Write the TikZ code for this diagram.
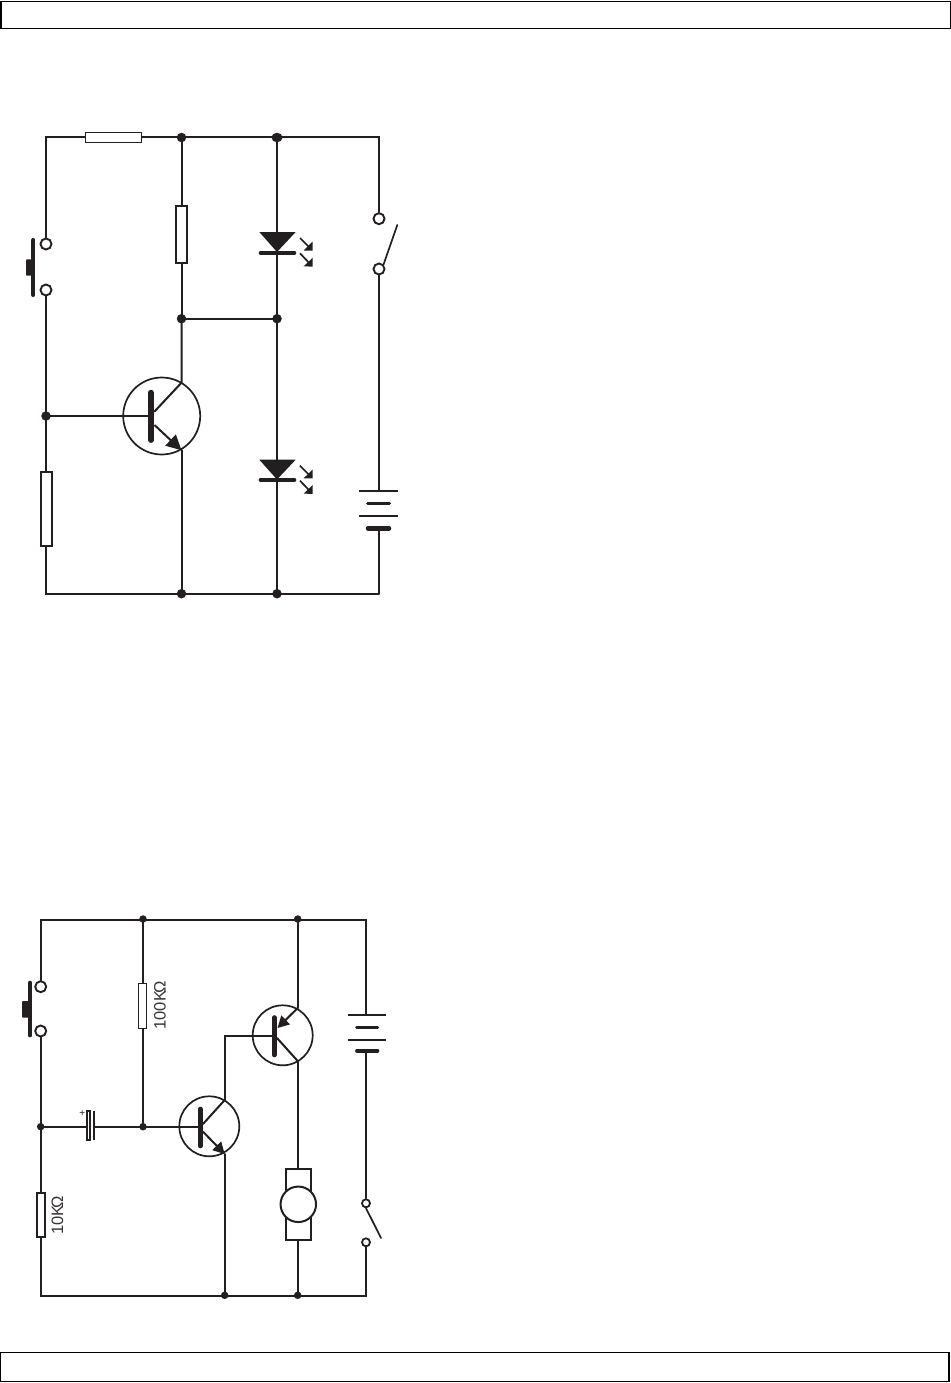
\documentclass[tikz,border=0pt]{standalone}
\usepackage{fontspec}
\setmainfont{Liberation Sans}
\usetikzlibrary{arrows.meta,shapes.geometric}
\definecolor{ink}{HTML}{231F20}
\tikzset{
  wire/.style={draw=ink,line width=2pt,line cap=round,line join=miter},
  thin wire/.style={draw=ink,line width=1.7pt},
  res/.style={draw=ink,fill=white,line width=1.9pt,rectangle,inner sep=0pt},
  dotA/.style={circle,fill=ink,inner sep=0pt,minimum size=9.5pt},
  dotB/.style={circle,fill=ink,inner sep=0pt,minimum size=7.5pt},
  term/.style={circle,draw=ink,fill=white,line width=1.9pt,inner sep=0pt,minimum size=11pt},
  termS/.style={circle,draw=ink,fill=white,line width=1.8pt,inner sep=0pt,minimum size=8pt},
  tcircle/.style={circle,draw=ink,line width=1.7pt,inner sep=0pt},
  bar/.style={draw=ink,line cap=round},
  plate/.style={draw=ink,line cap=butt},
  eArrow/.style={wire,line cap=butt,-{Triangle[length=15pt,width=15pt]}},
  ledArrow/.style={draw=ink,line width=1.7pt,-{Triangle[length=6.5pt,width=12pt]}},
  val/.style={rotate=90,font=\fontsize{16.5}{16.5}\selectfont,text=ink!90,inner sep=0pt}
}
\begin{document}
\begin{tikzpicture}[x=1pt,y=-1pt]
\useasboundingbox (0,0) rectangle (950,1383);
% header and footer bars
\node[draw=black,line width=1.8pt,minimum width=950pt,minimum height=27pt,inner sep=0pt] (hdr) at (475.8,15) {};
\node[draw=black,line width=1.8pt,minimum width=949pt,minimum height=29pt,inner sep=0pt] (ftr) at (474.5,1367) {};

%% ---------- circuit 1 ----------
\coordinate (tl) at (46,137.5);
\coordinate (tr) at (379,137.5);
\coordinate (bl) at (46,593.7);
\coordinate (br) at (379,593.7);
\node[dotA] (j1) at (181.5,137.5) {};
\node[ellipse,fill=ink,inner sep=0pt,minimum width=11pt,minimum height=9.5pt] (j2) at (277,137.5) {};
\node[dotA] (j3) at (181.5,318.7) {};
\node[dotA] (j4) at (277,318.7) {};
\node[dotA] (j5) at (46,416) {};
\node[dotA] (j6) at (181.5,593.7) {};
\node[dotA] (j7) at (277,593.7) {};
\node[res,minimum width=56pt,minimum height=10pt] (r1) at (113.5,137.5) {};
\node[res,minimum width=11pt,minimum height=57pt] (r2) at (181.3,234.8) {};
\node[res,minimum width=11pt,minimum height=74pt] (r3) at (46.3,509.3) {};
\node[term] (p1) at (46,244) {};
\node[term] (p2) at (46,290) {};
\node[term] (s1) at (379,218.7) {};
\node[term] (s2) at (379,269) {};
% wires
\draw[wire] (p1.north) -- (tl) -- (r1.west);
\draw[wire] (r1.east) -- (j1.center) -- (j2.center) -- (tr) -- (s1.north);
\draw[wire] (p2.south) -- (j5.center) -- (r3.north -| j5);
\draw[wire] (r3.south -| j5) -- (bl) -- (j6.center) -- (j7.center) -- (br);
\draw[wire] (j1.center) -- (r2.north -| j1);
\draw[wire] (r2.south -| j1) -- (j3.center) -- (j4.center);
\coordinate (led1t) at (277,232);
\coordinate (led1b) at (277,252.7);
\coordinate (led2t) at (277,459.7);
\coordinate (led2b) at (277,480);
\draw[wire] (j2.center) -- (led1t);
\draw[wire] (led1b) -- (j4.center) -- (led2t);
\draw[wire] (led2b) -- (j7.center);
% LED 1
\fill[ink] (259.3,232) -- (295.7,232) -- (277,252) -- cycle;
\draw[bar,line width=3.6pt] (260.5,252.8) -- (294.5,252.8);
\coordinate (a1s) at (300,238); \coordinate (a1e) at (312.7,250.7);
\coordinate (a2s) at (300,253.3); \coordinate (a2e) at (312.7,266.7);
\draw[ledArrow] (a1s) -- (a1e);
\draw[ledArrow] (a2s) -- (a2e);
% LED 2
\fill[ink] (259.3,459.7) -- (295.7,459.7) -- (277,479.5) -- cycle;
\draw[bar,line width=3.6pt] (260.5,480) -- (294.5,480);
\coordinate (a3s) at (300,465.7); \coordinate (a3e) at (312.7,478.5);
\coordinate (a4s) at (300,480.7); \coordinate (a4e) at (312.7,494);
\draw[ledArrow] (a3s) -- (a3e);
\draw[ledArrow] (a4s) -- (a4e);
% push button 1
\draw[bar,line width=4pt] (33.4,240) -- (33.4,295);
\fill[ink,rounded corners=0.8pt] (26,259.3) rectangle (34,275.7);
% switch 1
\coordinate (sa1) at (397.3,225);
\draw[thin wire,line cap=round] (s2.north east) -- (sa1);
\draw[wire] (s2.south) -- (379,491);
% battery 1
\draw[thin wire] (359.3,491) -- (398.3,491);
\draw[plate,line cap=round,line width=3pt] (367.5,503.3) -- (389.5,503.3);
\draw[thin wire] (359.3,515.7) -- (398.3,515.7);
\draw[plate,line cap=round,line width=4.5pt] (368,528.3) -- (389,528.3);
\draw[wire] (379,528.3) -- (br);
% transistor 1
\node[tcircle,minimum size=77pt] (q1) at (161.7,416) {};
\draw[bar,line width=5.4pt] (151,392.5) -- (151,440.2);
\coordinate (q1c) at (181.5,382.7);
\coordinate (q1e) at (181.5,450.3);
\draw[wire] (j5.center) -- (151,416);
\draw[wire] (j3.center) -- (q1c) -- (154.5,411.5);
\draw[eArrow] (154.5,425) -- (q1e);
\draw[wire] (q1e) -- (j6.center);

%% ---------- circuit 2 ----------
\coordinate (Tl) at (40.7,919.5);
\coordinate (Tr) at (366,919.5);
\coordinate (Bl) at (40.7,1295.7);
\coordinate (Br) at (366,1295.7);
\node[dotB] (k1) at (143,919) {};
\node[dotB] (k2) at (297.7,919) {};
\node[dotB] (k3) at (40.7,1126.7) {};
\node[dotB] (k4) at (143,1126.7) {};
\node[dotB] (k5) at (224.7,1295.3) {};
\node[dotB] (k6) at (297.7,1295.3) {};
\node[res,minimum width=8pt,minimum height=45pt] (R1) at (142.5,1006) {};
\node[res,minimum width=8pt,minimum height=44pt] (R2) at (41.3,1215.3) {};
\node[val] (t100) at (160,1005.5) {100K\kern-3ptΩ};
\node[val] (t10) at (57.5,1215.5) {10K\kern-3ptΩ};
\node[term] (P1) at (40.7,986.7) {};
\node[term] (P2) at (40.7,1031) {};
\node[termS] (S1) at (366,1203.3) {};
\node[termS] (S2) at (366,1242.3) {};
\draw[wire] (P1.north) -- (Tl) -- (Tr) -- (366,1014.7);
\draw[wire] (P2.south) -- (k3.center) -- (R2.north -| k3);
\draw[wire] (R2.south -| k3) -- (Bl) -- (Br) -- (S2.south);
\draw[wire] (k1.center) -- (R1.north -| k1);
\draw[wire] (R1.south -| k1) -- (k4.center);
% push button 2
\draw[bar,line width=3.6pt] (30,982.5) -- (30,1035.5);
\fill[ink,rounded corners=0.8pt] (22,1001) rectangle (30,1017.7);
% capacitor
\node[draw=ink,line width=1.6pt,fill=white,inner sep=0pt,minimum width=3.2pt,minimum height=28.5pt] (C1) at (88.3,1125.5) {};
\draw[thin wire] (94,1110.7) -- (94,1140.3);
\coordinate (c1r) at (94,1126.7);
\draw[wire] (k3.center) -- (C1.west |- k3);
\draw[wire] (c1r) -- (k4.center);
\node[inner sep=0pt,text=ink,font=\fontsize{10}{10}\selectfont] (cp) at (82.3,1113.5) {+};
% transistor lower
\node[tcircle,minimum size=60pt] (q2) at (209.3,1126.3) {};
\draw[bar,line width=4.6pt] (200.3,1109) -- (200.3,1146);
\coordinate (q2c) at (224.7,1100);
\coordinate (q2e) at (224.7,1154);
\draw[wire] (k4.center) -- (200.3,1126.7);
\draw[wire] (q2c) -- (203,1124);
\draw[eArrow,-{Triangle[length=11.5pt,width=12pt]}] (203,1131.7) -- (q2e);
\draw[wire] (q2e) -- (k5.center);
% transistor upper
\node[tcircle,minimum size=60pt] (q3) at (282.7,1035.3) {};
\draw[bar,line width=4.6pt] (274.3,1017.5) -- (274.3,1055);
\coordinate (q3e) at (297.7,1008);
\coordinate (q3c) at (297.7,1061);
\coordinate (q3b) at (224.7,1035.7);
\draw[wire] (274.3,1035.7) -- (q3b) -- (q2c);
\draw[wire] (k2.center) -- (q3e);
\draw[eArrow,-{Triangle[length=11.5pt,width=12pt]}] (q3e) -- (277.5,1028);
\draw[wire] (277,1038) -- (q3c);
% motor
\node[res,minimum width=25pt,minimum height=70.5pt] (mb) at (298.3,1204.5) {};
\node[circle,draw=ink,fill=white,line width=2pt,inner sep=0pt,minimum size=35.5pt] (m) at (298.3,1204.3) {};
\draw[wire] (q3c) -- (mb.north -| q3c);
\draw[wire] (mb.south -| k6) -- (k6.center);
% battery 2
\draw[thin wire] (348.3,1014.7) -- (385.7,1014.7);
\draw[plate,line cap=round,line width=2.8pt] (356.6,1027.3) -- (377.7,1027.3);
\draw[thin wire] (348.3,1040) -- (385.7,1040);
\draw[plate,line cap=round,line width=3.8pt] (357,1050.7) -- (377.5,1050.7);
\draw[wire] (366,1050.7) -- (S1.north);
% switch 2
\coordinate (Sa) at (381,1238);
\draw[thin wire,line cap=round] (S1.south) -- (Sa);
\end{tikzpicture}
\end{document}
